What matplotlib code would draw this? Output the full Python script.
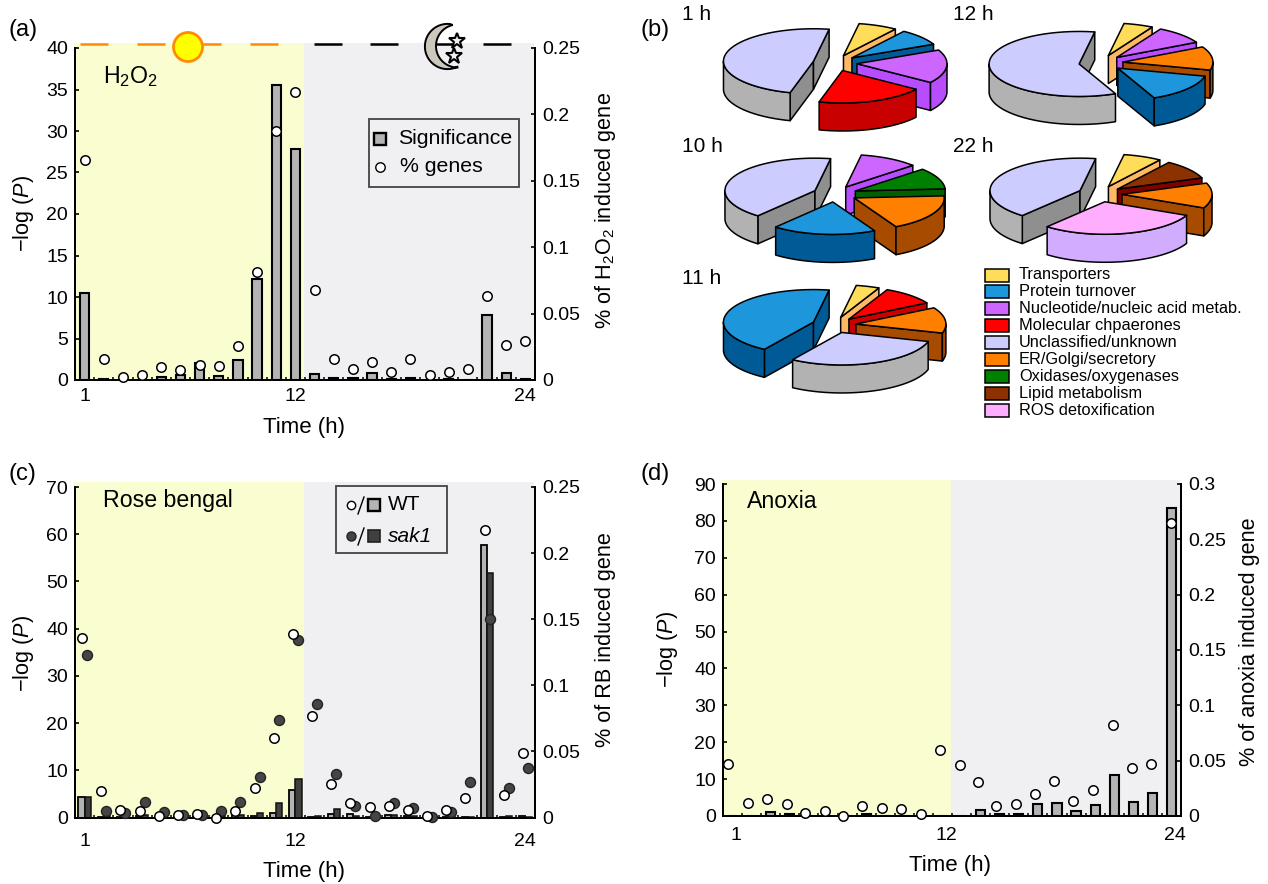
import matplotlib
matplotlib.use('Agg')
import matplotlib.pyplot as plt
import numpy as np
from matplotlib.patches import Circle, Polygon, Rectangle

plt.rcParams['font.family'] = ['Liberation Sans', 'DejaVu Sans']
plt.rcParams['mathtext.fontset'] = 'custom'
plt.rcParams['mathtext.rm'] = 'Liberation Sans'
plt.rcParams['mathtext.it'] = 'Liberation Sans:italic'
plt.rcParams['mathtext.default'] = 'regular'

W, H = 1268, 884

hours = np.arange(1, 25)

# panel a
h2o2_sig = [10.5, 0.1, 0, 0.05, 0.4, 0.6, 2.1, 0.5, 2.4, 12.2, 35.6, 27.8,
            0.7, 0.2, 0.3, 0.85, 0.15, 0.3, 0.05, 0.1, 0, 7.8, 0.85, 0.1]
h2o2_pct = [.166, .0158, .002, .0038, .0098, .0075, .011, .0105, .0256, .081, .1875, .217,
            .0678, .0158, .0083, .0136, .006, .0158, .0038, .006, .0083, .0633, .0264, .0294]

# panel c
rb_wt_sig = [4.25, .2, .2, .4, 0, .1, .1, .2, .5, .3, 1.0, 5.8,
             .2, .8, .8, .1, .5, .3, .1, .1, .2, 57.8, .2, .4]
rb_sak_sig = [4.25, .3, .3, .6, 0, .1, .1, .3, .5, .9, 3.0, 8.1,
              .3, 1.9, .3, .4, .6, .3, .1, .1, .2, 51.8, .4, .2]
rb_wt_pct = [.1356, .0197, .0053, .005, .001, .0018, .003, 0, .005, .022, .06, .139,
             .0765, .025, .0111, .0078, .009, .0058, .001, .0058, .0144, .2174, .0169, .0487]
rb_sak_pct = [.1227, .005, .0034, .0114, .0038, .002, .002, .005, .012, .031, .0735, .134,
              .0861, .0326, .009, .001, .0111, .0073, .0005, .0038, .0265, .150, .022, .0371]

# panel d
anoxia_sig = [.05, .05, 1.2, .5, .1, .1, .05, .5, .1, .1, .05, .1,
              .1, 1.6, .6, .6, 3.3, 3.6, 1.3, 2.9, 11, 3.8, 6.2, 83.5]
anoxia_pct = [.047, .012, .015, .0111, .003, .0045, 0, .009, .0075, .0066, .0018, .060,
              .0464, .0304, .0093, .0105, .020, .032, .014, .0238, .0825, .0434, .0473, .2647]
anoxia_pct_x = [.76, 1.8, 2.8, 3.85, 4.8, 5.85, 6.8, 7.8, 8.85, 9.85, 10.85, 11.85,
                12.9, 13.85, 14.8, 15.85, 16.85, 17.85, 18.85, 19.9, 20.95, 21.95, 22.95, 23.95]

# panel b, shares in percent, clockwise
categories = ['Transporters', 'Protein turnover', 'Nucleotide/nucleic acid metab.',
              'Molecular chpaerones', 'Unclassified/unknown', 'ER/Golgi/secretory',
              'Oxidases/oxygenases', 'Lipid metabolism', 'ROS detoxification']
top_colors = ['#FFDC5A', '#1E96DC', '#CC66FF', '#FF0000', '#CCCCFF', '#FF8000',
              '#008000', '#8B3200', '#FFADFF']
side_colors = ['#FFB964', '#005A96', '#B84DFF', '#C80000', '#B2B2B2', '#A64B00',
               '#006000', '#800000', '#D2ADFF']
cut_colors = ['#FFB964', '#005A96', '#B84DFF', '#C80000', '#8F8F8F', '#A64B00',
              '#006000', '#800000', '#D2ADFF']

pie_1h_cats = [0, 1, 2, 3, 4]
pie_1h = [7.0, 8.3, 16.7, 19.4, 48.6]
pie_10h_cats = [2, 6, 5, 1, 4]
pie_10h = [10.6, 10.6, 18.3, 18.6, 41.8]
pie_11h_cats = [0, 3, 5, 4, 1]
pie_11h = [4.2, 9.7, 12.8, 29.7, 43.6]
pie_12h_cats = [0, 2, 5, 1, 4]
pie_12h = [5.3, 9.2, 11.7, 14.4, 59.4]
pie_22h_cats = [0, 7, 5, 8, 4]
pie_22h = [6.9, 9.7, 12.5, 29.2, 41.7]

fig = plt.figure(figsize=(W / 100, H / 100), dpi=100)

# full figure axes in pixels, under the panels
bg = fig.add_axes([0, 0, 1, 1], zorder=0)
bg.set_xlim(0, W)
bg.set_ylim(H, 0)
bg.axis('off')


def ellipse_pt(cx, cy, rx, ry, deg):
    t = np.radians(deg)
    return cx + rx * np.sin(t), cy - ry * np.cos(t)


def draw_pie(cx, cy, shares, cats, start=10, rx=90, ry=32.5, depth=28, explode=0.245):
    shares = np.array(shares, dtype=float)
    edges = start + np.concatenate([[0], np.cumsum(shares / shares.sum() * 360)])
    slices = []
    for i, c in enumerate(cats):
        a, b = edges[i], edges[i + 1]
        mid = np.radians((a + b) / 2)
        ax0 = cx + explode * rx * np.sin(mid)
        ay0 = cy - explode * ry * np.cos(mid)
        slices.append((ay0, ax0, a, b, c))
    # back slices first
    for ay0, ax0, a, b, c in sorted(slices):
        kw = dict(ec='k', lw=1.1, joinstyle='round')
        for ang, vis in ((a, np.sin(np.radians(a)) < 0), (b, np.sin(np.radians(b)) > 0)):
            if vis:
                px, py = ellipse_pt(ax0, ay0, rx, ry, ang)
                bg.add_patch(Polygon([(ax0, ay0), (px, py), (px, py + depth), (ax0, ay0 + depth)],
                                     fc=cut_colors[c], **kw))
        lo, hi = max(a, 90), min(b, 270)
        if hi > lo:
            t = np.linspace(lo, hi, 60)
            xs, ys = ellipse_pt(ax0, ay0, rx, ry, t)
            pts = list(zip(xs, ys)) + list(zip(xs[::-1], ys[::-1] + depth))
            bg.add_patch(Polygon(pts, fc=side_colors[c], **kw))
        t = np.linspace(a, b, 100)
        xs, ys = ellipse_pt(ax0, ay0, rx, ry, t)
        bg.add_patch(Polygon([(ax0, ay0)] + list(zip(xs, ys)), fc=top_colors[c], **kw))


def make_panel(x0, x1, y_top, y_bot, ymax, ystep, rmax, rstep, rlabels, shade_top, xpad):
    mid = (x0 + x1) / 2
    bg.add_patch(Rectangle((x0 - 1, shade_top), mid - x0, y_bot - shade_top, fc='#F9FDD0', ec='none'))
    bg.add_patch(Rectangle((mid - 1, shade_top), x1 - mid, y_bot - shade_top, fc='#F0F0F3', ec='none'))
    ax = fig.add_axes([x0 / W, 1 - y_bot / H, (x1 - x0) / W, (y_bot - y_top) / H], zorder=2)
    ax.patch.set_alpha(0)
    ax.set_xlim(0.5, 24.5)
    ax.set_ylim(0, ymax)
    ax.set_yticks(np.arange(0, ymax + 1, ystep))
    ax.set_xticks(np.arange(0.5, 25), minor=True)
    ax.tick_params(axis='x', which='minor', direction='in', length=2.5, width=1.1)
    ax.tick_params(axis='x', which='major', length=0, pad=xpad, labelsize=14)
    ax.tick_params(axis='y', direction='in', length=3, width=1.2, labelsize=14, pad=5)
    rx = ax.twinx()
    rx.patch.set_alpha(0)
    rx.set_ylim(0, rmax)
    rx.set_yticks(np.arange(0, rmax + 1e-6, rstep))
    rx.set_yticklabels(rlabels)
    rx.tick_params(axis='y', direction='in', length=3, width=1.2, labelsize=14, pad=5.5)
    for a in (ax, rx):
        a.spines['top'].set_visible(False)
        for s in ('left', 'right', 'bottom'):
            a.spines[s].set_linewidth(1.4)
    return ax, rx


labels_25 = ['0', '0.05', '0.1', '0.15', '0.2', '0.25']
labels_30 = labels_25 + ['0.3']
circ = dict(marker='o', ms=6.8, mfc='white', mec='k', mew=1.1, ls='none', clip_on=False, zorder=5)
dark = dict(marker='o', ms=7.2, mfc='#454545', mec='#222222', mew=1.0, ls='none', clip_on=False, zorder=4)

# (a)
ax_a, rx_a = make_panel(75, 535, 48, 380, 40, 5, 0.25, 0.05, labels_25, 43, 6)
ax_a.bar(hours, h2o2_sig, width=0.48, fc='#B4B4B4', ec='k', lw=1.5)
rx_a.plot(hours, h2o2_pct, **circ)
ax_a.set_xticks([1, 12, 24])
ax_a.set_xticklabels(['1', '12', '24'])

# (c)
ax_c, rx_c = make_panel(75, 535, 487, 817.5, 70, 10, 0.25, 0.05, labels_25, 482, 11)
ax_c.bar(hours - 0.16, rb_wt_sig, width=0.32, fc='#B4B4B4', ec='k', lw=1.3)
ax_c.bar(hours + 0.16, rb_sak_sig, width=0.32, fc='#404040', ec='#111111', lw=1.1)
rx_c.plot(hours + 0.13, rb_sak_pct, **dark)
rx_c.plot(hours - 0.13, rb_wt_pct, **circ)
ax_c.set_xticks([1, 12, 24])
ax_c.set_xticklabels(['1', '12', '24'])

# (d)
ax_d, rx_d = make_panel(723, 1181, 484, 816, 90, 10, 0.3, 0.05, labels_30, 480, 8)
ax_d.bar(hours, anoxia_sig, width=0.48, fc='#B4B4B4', ec='k', lw=1.5)
rx_d.plot(anoxia_pct_x, anoxia_pct, **circ)
ax_d.set_xticks([1.2, 12.2, 24.2])
ax_d.set_xticklabels(['1', '12', '24'])

# axis titles
plog = '\u2212log ($\\mathit{P}$)'
bg.text(304, 427, 'Time (h)', ha='center', va='center', fontsize=16)
bg.text(304, 871, 'Time (h)', ha='center', va='center', fontsize=16)
bg.text(950, 865, 'Time (h)', ha='center', va='center', fontsize=16)
bg.text(23, 214, plog, rotation=90, ha='center', va='center', fontsize=15.6)
bg.text(23, 654, plog, rotation=90, ha='center', va='center', fontsize=15.6)
bg.text(667, 650, plog, rotation=90, ha='center', va='center', fontsize=15.6)
bg.text(606, 210, '% of H$_2$O$_2$ induced gene', rotation=90, ha='center', va='center', fontsize=15.6)
bg.text(606, 640, '% of RB induced gene', rotation=90, ha='center', va='center', fontsize=15.6)
bg.text(1250, 642, '% of anoxia induced gene', rotation=90, ha='center', va='center', fontsize=15.6)

# panel letters
for lab, x, y in (('(a)', 8, 30), ('(b)', 641, 30), ('(c)', 8, 474), ('(d)', 641, 474)):
    bg.text(x, y, lab, ha='left', va='center', fontsize=17)

bg.text(103, 77, 'H$_2$O$_2$', ha='left', va='center', fontsize=16.7)
bg.text(103, 501, 'Rose bengal', ha='left', va='center', fontsize=16.7)
bg.text(747, 502, 'Anoxia', ha='left', va='center', fontsize=16.7)

# day/night bar on top of (a)
for s in (80, 137, 193, 250):
    bg.plot([s, s + 28], [44, 44], color='#FF8C00', lw=1.8, solid_capstyle='butt')
for s in (314, 370, 427, 483):
    bg.plot([s, s + 28], [44, 44], color='k', lw=1.8, solid_capstyle='butt')
bg.add_patch(Circle((188, 47), 14.5, fc='#FFFF00', ec='#FF8C00', lw=2, zorder=4))
t_out = np.radians(np.linspace(-83, -296, 60))
t_in = np.radians(np.linspace(-296 + 26, -111 + 8, 60))
moon_x = np.concatenate([447.5 + 22.6 * np.cos(t_out), 457.5 + 21.5 * np.cos(t_in)])
moon_y = np.concatenate([46.5 + 22.6 * np.sin(t_out), 46 + 21.5 * np.sin(t_in)])
bg.add_patch(Polygon(np.column_stack([moon_x, moon_y]), fc='#CDC8BE', ec='k', lw=1.4, zorder=4))
bg.plot([457, 454], [41, 56], ls='none', marker='*', ms=12, mfc='#F0F0F3', mec='k', mew=1.5, zorder=5)

# legend of (a)
bg.add_patch(Rectangle((369, 119), 150, 68, fc='#F0F0F3', ec='#444444', lw=1.3, zorder=3))
bg.add_patch(Rectangle((374, 133), 12, 12, fc='#B4B4B4', ec='k', lw=1.7, zorder=4))
bg.plot([380], [167], ls='none', marker='o', ms=6.8, mfc='white', mec='k', mew=1.0, zorder=4)
bg.text(398, 138.5, 'Significance', va='center', fontsize=15.3, zorder=4)
bg.text(400, 166.5, '% genes', va='center', fontsize=15.3, zorder=4)

# legend of (c)
bg.add_patch(Rectangle((336, 486), 111, 67, fc='#F0F0F3', ec='#444444', lw=1.3, zorder=3))
bg.plot([351], [505], ls='none', marker='o', ms=6, mfc='white', mec='k', mew=1.0, zorder=4)
bg.plot([351], [536], ls='none', marker='o', ms=6.5, mfc='#454545', mec='#222222', mew=1.0, zorder=4)
bg.plot([358, 364], [514, 497], color='k', lw=1, zorder=4)
bg.plot([358, 364], [545, 528], color='k', lw=1, zorder=4)
bg.add_patch(Rectangle((368, 499), 12, 12, fc='#B4B4B4', ec='k', lw=1.7, zorder=4))
bg.add_patch(Rectangle((368, 530), 12, 12, fc='#404040', ec='#222222', lw=1.2, zorder=4))
bg.text(388, 505, 'WT', va='center', fontsize=15, zorder=4)
bg.text(388, 537, 'sak1', va='center', fontsize=15, style='italic', zorder=4)

# (b)
for lab, x, y in (('1 h', 682, 14), ('12 h', 953, 14), ('10 h', 682, 146), ('22 h', 953, 146), ('11 h', 682, 279)):
    bg.text(x, y, lab, ha='left', va='center', fontsize=15)
draw_pie(835, 63, pie_1h, pie_1h_cats)
draw_pie(1101, 63, pie_12h, pie_12h_cats)
draw_pie(835, 194, pie_10h, pie_10h_cats)
draw_pie(1100, 194, pie_22h, pie_22h_cats)
draw_pie(834, 325, pie_11h, pie_11h_cats)

for i, name in enumerate(categories):
    y = 275 + i * 16.9
    bg.add_patch(Rectangle((985, y - 6.5), 24, 13, fc=top_colors[i], ec='k', lw=1.1))
    bg.text(1019, y, name, va='center', fontsize=11.8)

fig.savefig('out.png', dpi=100)
